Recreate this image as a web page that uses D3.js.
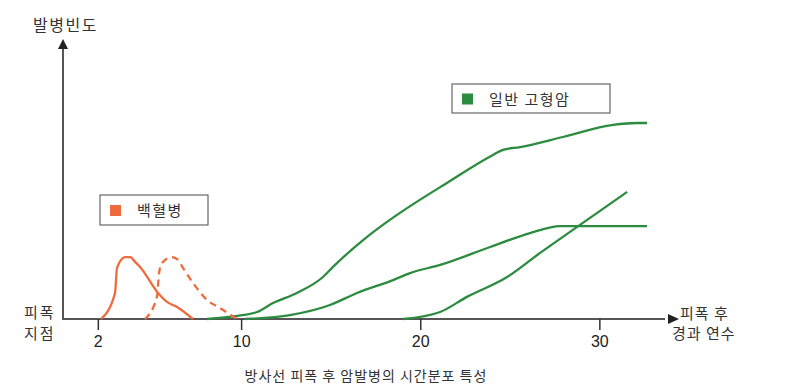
<!DOCTYPE html>
<html><head><meta charset="utf-8">
<script src="https://cdn.jsdelivr.net/npm/d3@7"></script>
<style>body{margin:0;background:#fff}svg{display:block;font-family:"Noto Sans CJK KR","Noto Sans",sans-serif}</style>
</head><body><svg id="c" width="807" height="386"></svg>
<script>
// year after exposure, relative incidence (0-100)
const leukemiaA = [[2.18,0],[2.96,9.3],[3.07,18.2],[3.52,22.1],[3.80,22.1],[4.08,20.4],[4.36,18.6],[5.36,9.3],[5.86,6.1],[6.42,4.3],[7.31,0]];
const leukemiaB = [[4.63,0],[5.30,7.9],[5.42,16.4],[5.58,20.0],[6.14,22.1],[6.48,21.1],[6.76,18.2],[7.31,12.9],[8.10,6.8],[8.82,3.9],[9.77,0]];
const solidA = [[8.10,0],[9.77,1.1],[10.89,2.5],[11.78,5.7],[13.12,9.3],[14.57,15.0],[15.13,18.6],[16.81,28.2],[17.76,32.9],[18.87,37.9],[21.49,48.6],[24.06,58.6],[24.62,60.4],[25.57,61.4],[27.97,65.0],[30.76,69.3],[32.10,70.0],[32.66,70.0]];
const solidB = [[10.22,0],[12.73,1.4],[14.96,5.0],[16.47,9.3],[18.48,13.9],[19.43,16.4],[21.11,19.3],[23.90,25.7],[26.13,30.7],[27.81,33.2],[32.66,33.2]];
const solidC = [[19.04,0],[21.11,2.5],[22.61,7.9],[24.85,15.0],[26.69,23.6],[28.92,33.6],[31.55,45.4]];
const xTicks = [2,10,20,30];
const legendLabels = ["백혈병","일반 고형암"];
const yLabel = "발병빈도";
const originLabel = ["피폭","지점"];
const xLabel = ["피폭 후","경과 연수"];
const title = "방사선 피폭 후 암발병의 시간분포 특성";

const svg = d3.select("#c");
const x = d3.scaleLinear().domain([0,34]).range([62,671]);
const y = d3.scaleLinear().domain([0,100]).range([319,39]);
const orange = "#ef6b3d", green = "#2b8c3f", axisC = "#555";

const line = d3.line().x(d=>x(d[0])).y(d=>y(d[1])).curve(d3.curveMonotoneX);

// axes
svg.append("line").attr("x1",x(0)+1).attr("x2",x(0)+1).attr("y1",y(0)).attr("y2",y(100)+8)
  .attr("stroke",axisC).attr("stroke-width",2);
svg.append("path").attr("d",`M${x(0)+1},${y(100)} l-5,10 l10,0 z`).attr("fill","#222");
svg.append("line").attr("x1",x(0)).attr("x2",x(34)-6).attr("y1",y(0)).attr("y2",y(0))
  .attr("stroke",axisC).attr("stroke-width",2);
svg.append("path").attr("d",`M${x(34)+8},${y(0)} l-11,-5 l0,10 z`).attr("fill","#222");

const xa = svg.append("g").attr("transform",`translate(0,${y(0)})`)
  .call(d3.axisBottom(x).tickValues(xTicks).tickSize(11).tickPadding(6).tickFormat(d3.format("d")));
xa.select(".domain").remove();
xa.selectAll(".tick line").attr("stroke","#333").attr("stroke-width",1.5);
xa.selectAll(".tick text").attr("font-size",16).attr("fill","#222").attr("font-family","Liberation Sans, Arial, sans-serif");

// curves
svg.append("path").datum(solidA).attr("d",line).attr("fill","none").attr("stroke",green).attr("stroke-width",2.3);
svg.append("path").datum(solidB).attr("d",line).attr("fill","none").attr("stroke",green).attr("stroke-width",2.3);
svg.append("path").datum(solidC).attr("d",line).attr("fill","none").attr("stroke",green).attr("stroke-width",2.3);
svg.append("path").datum(leukemiaA).attr("d",line).attr("fill","none").attr("stroke",orange).attr("stroke-width",2.3);
svg.append("path").datum(leukemiaB).attr("d",line).attr("fill","none").attr("stroke",orange).attr("stroke-width",2.3).attr("stroke-dasharray","7,5");

// texts
svg.append("text").attr("x",33).attr("y",31).attr("font-size",16).attr("fill","#333").attr("letter-spacing",1.5).text(yLabel);
svg.append("text").attr("x",24).attr("y",318).attr("font-size",15).attr("fill","#333").attr("letter-spacing",2).text(originLabel[0]);
svg.append("text").attr("x",24).attr("y",339).attr("font-size",15).attr("fill","#333").attr("letter-spacing",2).text(originLabel[1]);
svg.append("text").attr("x",680).attr("y",319).attr("font-size",15).attr("fill","#333").attr("letter-spacing",1).text(xLabel[0]);
svg.append("text").attr("x",672).attr("y",339).attr("font-size",15).attr("fill","#333").attr("letter-spacing",1).text(xLabel[1]);
svg.append("text").attr("x",366).attr("y",381).attr("text-anchor","middle").attr("font-size",14).attr("fill","#333").attr("letter-spacing",1).text(title);

// legends
function legend(bx,by,bw,bh,col,label){
  svg.append("rect").attr("x",bx).attr("y",by).attr("width",bw).attr("height",bh).attr("fill","#fff").attr("stroke","#666").attr("stroke-width",1.2);
  svg.append("rect").attr("x",bx+10).attr("y",by+bh/2-5).attr("width",11).attr("height",11).attr("fill",col);
  svg.append("text").attr("x",bx+37).attr("y",by+bh/2+6).attr("font-size",15).attr("fill","#333").attr("letter-spacing",1.5).text(label);
}
legend(100,195,108,30,orange,legendLabels[0]);
legend(452,84,158,29,green,legendLabels[1]);
</script></body></html>
